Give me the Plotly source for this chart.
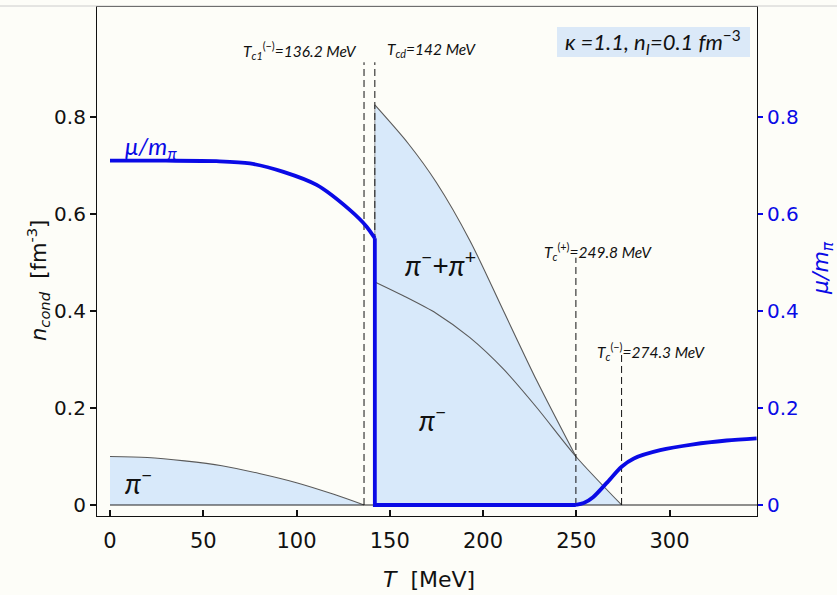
import plotly.graph_objects as go

# ---------------- data ----------------
# low-T pi- condensate density (left axis)
T_low = [0, 20, 40, 60, 80, 100, 120, 136.2]
n_low = [0.100, 0.098, 0.091, 0.081, 0.065, 0.046, 0.022, 0.0]

# total pi- + pi+ density (upper curve), 142 -> 249.8
T_up = [142, 160, 175, 193, 211, 229, 249.8]
n_up = [0.825, 0.745, 0.665, 0.545, 0.40, 0.255, 0.100]

# pi- density (lower curve), 142 -> 274.3
T_mid = [142, 157, 175, 193, 211, 229, 249.8, 274.3]
n_mid = [0.46, 0.432, 0.395, 0.345, 0.28, 0.20, 0.100, 0.0]

# chemical potential mu/m_pi (right axis): condensed branch, gap, high-T branch
T_mu1 = [0, 30, 57, 75, 93, 110.8, 128.7, 137.6, 142]
mu1 = [0.710, 0.710, 0.709, 0.7045, 0.687, 0.66, 0.608, 0.574, 0.55]
T_mu_drop = [142, 142, 249.8]
mu_drop = [0.55, 0.0, 0.0]
T_mu2 = [249.8, 254, 259, 266.2, 274.3, 280.9, 295, 312.8, 330.6, 346.7]
mu2 = [0.0, 0.004, 0.016, 0.045, 0.079, 0.096, 0.113, 0.125, 0.133, 0.1375]

# critical temperatures and dashed line heights
T_crit = [136.2, 142, 249.8, 274.3]
crit_top = [0.913, 0.913, 0.51, 0.31]
crit_labels = ["<i>T</i><sub><i>c1</i></sub><sup>(−)</sup><i>=136.2 MeV</i>",
               "<i>T</i><sub><i>cd</i></sub><i>=142 MeV</i>",
               "<i>T</i><sub><i>c</i></sub><sup>(+)</sup><i>=249.8 MeV</i>",
               "<i>T</i><sub><i>c</i></sub><sup>(−)</sup><i>=274.3 MeV</i>"]
crit_label_px = [300, 431, 598, 651]
crit_label_py = [50, 50, 251, 351]
x_ticks = [0, 50, 100, 150, 200, 250, 300]
y_ticks = [0, 0.2, 0.4, 0.6, 0.8]
y_ticktext = ["0", "0.2", "0.4", "0.6", "0.8"]

# ---------------- styling ----------------
BG = "#fdfdf8"
FILL = "rgba(214,232,250,0.95)"
BLUE = "#0a0ae6"
GRAY = "#5a5a5a"
XR = [-6.97, 346.9]
YR = [-0.0227, 1.027]


def px_to_x(px):
    return (px - 110) / 1.865


def py_to_y(py):
    return (505 - py) / 485


def ppx(px):
    return (px - 97) / 660


def ppy(py):
    return (516 - py) / 509


fig = go.Figure()

# fill low-T pi- region
fig.add_trace(go.Scatter(x=T_low + [0], y=n_low + [0], fill="toself", fillcolor=FILL,
                         mode="lines", line=dict(width=0), hoverinfo="skip", showlegend=False))
# fill high-T region polygon
k = T_mid.index(249.8) + 1
poly_x = [T_up[0]] + T_up + T_mid[k:] + [T_up[0]]
poly_y = [0] + n_up + n_mid[k:] + [0]
fig.add_trace(go.Scatter(x=poly_x, y=poly_y, fill="toself", fillcolor=FILL,
                         mode="lines", line=dict(width=0), hoverinfo="skip", showlegend=False))

# gray curves
for xs, ys in [(T_low, n_low), (T_up, n_up), (T_mid, n_mid)]:
    fig.add_trace(go.Scatter(x=xs, y=ys, mode="lines",
                             line=dict(color=GRAY, width=1.1, shape="spline", smoothing=0.8),
                             showlegend=False))
fig.add_trace(go.Scatter(x=[142, 142], y=[0, n_up[0]], mode="lines",
                         line=dict(color="#9a9a9a", width=1), showlegend=False))

# baseline y=0
fig.add_trace(go.Scatter(x=[0, XR[1]], y=[0, 0], mode="lines",
                         line=dict(color="#222222", width=1.2), showlegend=False))

# dashed critical lines
for t, top in zip(T_crit, crit_top):
    fig.add_trace(go.Scatter(x=[t, t], y=[0, top], mode="lines",
                             line=dict(color="#111111", width=1, dash="7px,4px"), showlegend=False))

# blue mu curve on right axis
fig.add_trace(go.Scatter(x=T_mu1, y=mu1, yaxis="y2", mode="lines",
                         line=dict(color=BLUE, width=3.8, shape="spline", smoothing=0.8),
                         showlegend=False))
fig.add_trace(go.Scatter(x=T_mu_drop, y=mu_drop, yaxis="y2", mode="lines",
                         line=dict(color=BLUE, width=3.8), showlegend=False))
fig.add_trace(go.Scatter(x=T_mu2, y=mu2, yaxis="y2", mode="lines",
                         line=dict(color=BLUE, width=3.8, shape="spline", smoothing=0.8),
                         showlegend=False))

ann_family = "Lato, Open Sans, sans-serif"
ann_font = dict(family=ann_family, size=15.5, color="#111111")
annotations = []
for lx, ly, txt in zip(crit_label_px, crit_label_py, crit_labels):
    annotations.append(dict(x=px_to_x(lx), y=py_to_y(ly), xref="x", yref="y", text=txt,
                            showarrow=False, font=ann_font, xanchor="center", yanchor="middle"))

annotations += [
    dict(x=ppx(653), y=ppy(42), xref="paper", yref="paper",
         text="<i>κ =1.1, n</i><sub><i>I</i></sub><i>=0.1 fm</i><sup>−3</sup>",
         showarrow=False, font=dict(family=ann_family, size=22, color="#111111"),
         xanchor="center", yanchor="middle"),
    dict(x=px_to_x(151), y=py_to_y(147), xref="x", yref="y",
         text="<i>μ/m</i><sub><i>π</i></sub>", showarrow=False,
         xanchor="center", yanchor="middle",
         font=dict(family=ann_family, size=24, color=BLUE)),
    dict(x=px_to_x(440), y=py_to_y(263), xref="x", yref="y",
         text="<i>π</i><sup>−</sup>+<i>π</i><sup>+</sup>", showarrow=False,
         xanchor="center", yanchor="middle",
         font=dict(family=ann_family, size=28, color="#111111")),
    dict(x=px_to_x(432), y=py_to_y(418), xref="x", yref="y",
         text="<i>π</i><sup>−</sup>", showarrow=False,
         xanchor="center", yanchor="middle",
         font=dict(family=ann_family, size=28, color="#111111")),
    dict(x=px_to_x(138), y=py_to_y(481), xref="x", yref="y",
         text="<i>π</i><sup>−</sup>", showarrow=False,
         xanchor="center", yanchor="middle",
         font=dict(family=ann_family, size=28, color="#111111")),
    # axis titles
    dict(x=ppx(38), y=ppy(280), xref="paper", yref="paper",
         text="<i>n</i><sub><i>cond</i></sub>  [fm<sup>-3</sup>]", textangle=-90, showarrow=False,
         xanchor="center", yanchor="middle",
         font=dict(family="DejaVu Sans, sans-serif", size=21, color="#111111")),
    dict(x=ppx(822), y=ppy(268), xref="paper", yref="paper",
         text="<i>μ/m</i><sub><i>π</i></sub>", textangle=-90, showarrow=False,
         xanchor="center", yanchor="middle",
         font=dict(family="DejaVu Sans, sans-serif", size=22, color=BLUE)),
    dict(x=ppx(429), y=ppy(579), xref="paper", yref="paper",
         text="<i>T</i>  [MeV]", showarrow=False, xanchor="center", yanchor="middle",
         font=dict(family="DejaVu Sans, sans-serif", size=22, color="#111111")),
]

fig.update_layout(
    width=837, height=595,
    margin=dict(l=97, r=80, t=7, b=79),
    paper_bgcolor=BG, plot_bgcolor=BG,
    showlegend=False,
    annotations=annotations,
    xaxis=dict(range=XR, tickvals=x_ticks, ticks="inside", ticklen=6, tickwidth=1.5,
               tickcolor="#111111", showgrid=False, zeroline=False, ticklabelstandoff=6,
               showline=True, linecolor="#111111", linewidth=1.2, mirror=True,
               tickfont=dict(family="DejaVu Sans, sans-serif", size=21, color="#111111")),
    yaxis=dict(range=YR, tickvals=y_ticks, ticktext=y_ticktext, ticks="outside", ticklen=6,
               tickwidth=1.5, tickcolor="#111111", showgrid=False, zeroline=False,
               showline=True, linecolor="#111111", linewidth=1.2, mirror=True,
               tickfont=dict(family="DejaVu Sans, sans-serif", size=20, color="#111111")),
    yaxis2=dict(range=YR, tickvals=y_ticks, ticktext=y_ticktext, overlaying="y", side="right",
                ticks="outside", ticklen=5, tickwidth=1.5, tickcolor=BLUE, showgrid=False,
                zeroline=False, showline=False,
                tickfont=dict(family="DejaVu Sans, sans-serif", size=20, color=BLUE)),
    shapes=[
        dict(type="line", xref="paper", yref="paper", x0=-1, x1=2, y0=ppy(6), y1=ppy(6),
             line=dict(color="#cccccc", width=1)),
        dict(type="rect", xref="paper", yref="paper", x0=ppx(557), x1=ppx(750),
             y0=ppy(57), y1=ppy(27), fillcolor="#dbe9f8", line=dict(width=0), layer="below"),
    ],
)

fig.write_html("out.html")
